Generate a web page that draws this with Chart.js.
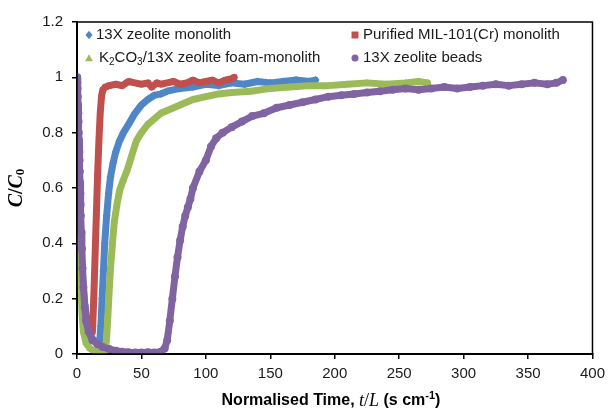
<!DOCTYPE html>
<html>
<head>
<meta charset="utf-8">
<script src="https://cdn.jsdelivr.net/npm/chart.js@4.4.1/dist/chart.umd.min.js"></script>
<style>
  html, body { margin: 0; padding: 0; background: #fff; }
  #wrap { width: 611px; height: 410px; position: relative; }
</style>
</head>
<body>
<div id="wrap"><canvas id="breakthrough"></canvas></div>
<script>
// 13X zeolite monolith
const monolithT = [0, 0.5, 1, 1.5, 2, 3, 4, 6, 8, 10, 13, 16, 17.5, 18.5, 19.5, 20.5, 21.5, 23, 24.5, 26, 28, 30, 33, 36, 40, 45, 50, 55, 60, 65, 70, 80, 90, 100, 110, 120, 130, 140, 150, 160, 170, 180, 185];
const monolithC = [1.0, 0.9, 0.78, 0.66, 0.55, 0.4, 0.3, 0.18, 0.11, 0.07, 0.05, 0.04, 0.04, 0.1, 0.2, 0.3, 0.4, 0.5, 0.58, 0.64, 0.69, 0.73, 0.77, 0.8, 0.83, 0.87, 0.9, 0.92, 0.935, 0.94, 0.95, 0.96, 0.965, 0.975, 0.97, 0.98, 0.975, 0.985, 0.98, 0.985, 0.99, 0.985, 0.99];

// Purified MIL-101(Cr) monolith
const milT = [0, 0.3, 0.6, 1, 1.5, 2, 3, 4, 6, 8, 10, 12, 13, 14, 15, 16, 17, 18, 19, 20, 22, 25, 30, 35, 40, 45, 50, 55, 58, 62, 65, 70, 75, 80, 85, 90, 95, 100, 105, 110, 115, 120, 122];
const milC = [1.0, 0.93, 0.85, 0.75, 0.62, 0.5, 0.36, 0.26, 0.16, 0.11, 0.09, 0.08, 0.2, 0.35, 0.5, 0.65, 0.77, 0.87, 0.93, 0.955, 0.965, 0.97, 0.975, 0.97, 0.985, 0.98, 0.975, 0.98, 0.965, 0.98, 0.975, 0.98, 0.985, 0.975, 0.98, 0.99, 0.98, 0.985, 0.99, 0.98, 0.99, 0.995, 1.0];

// K2CO3/13X zeolite foam-monolith
const foamT = [0, 0.5, 1, 1.5, 2, 3, 4, 5, 7, 10, 14, 18, 22, 23, 24, 25, 26, 27.5, 29, 31, 33, 36, 39, 42, 46, 50, 55, 60, 65, 70, 80, 90, 100, 110, 120, 135, 150, 165, 180, 195, 210, 225, 240, 255, 265, 272];
const foamC = [1.0, 0.85, 0.7, 0.55, 0.42, 0.25, 0.14, 0.08, 0.04, 0.02, 0.01, 0.005, 0.01, 0.06, 0.14, 0.23, 0.31, 0.4, 0.48, 0.54, 0.59, 0.63, 0.665, 0.71, 0.77, 0.8, 0.83, 0.85, 0.87, 0.88, 0.9, 0.92, 0.93, 0.94, 0.945, 0.95, 0.96, 0.965, 0.97, 0.97, 0.975, 0.98, 0.975, 0.98, 0.985, 0.98];

// 13X zeolite beads
const beadsT = [0, 0.2, 0.4, 0.6, 0.8, 1.0, 1.2, 1.4, 1.6, 1.8, 2.0, 2.2, 2.4, 2.6, 2.8, 3.0, 3.4, 3.8, 4.3, 5, 6, 7, 9, 12, 16, 20, 25, 30, 35, 40, 45, 50, 55, 60, 65, 68, 70, 72, 74, 76, 78, 80, 82, 84, 86, 88, 90, 95, 100, 104, 108, 113, 120, 128, 136, 145, 155, 165, 175, 185, 195, 205, 215, 225, 235, 245, 255, 265, 275, 285, 295, 305, 315, 325, 335, 345, 355, 365, 372, 377];
const beadsC = [1.0, 0.98, 0.96, 0.93, 0.9, 0.87, 0.84, 0.8, 0.77, 0.73, 0.7, 0.66, 0.62, 0.58, 0.54, 0.5, 0.44, 0.38, 0.31, 0.24, 0.17, 0.12, 0.08, 0.05, 0.035, 0.025, 0.018, 0.012, 0.008, 0.006, 0.005, 0.005, 0.006, 0.005, 0.008, 0.02, 0.05, 0.12, 0.2, 0.28, 0.35, 0.41, 0.46, 0.5, 0.53, 0.56, 0.6, 0.66, 0.7, 0.75, 0.78, 0.8, 0.82, 0.84, 0.86, 0.87, 0.89, 0.9, 0.91, 0.92, 0.93, 0.935, 0.94, 0.945, 0.95, 0.955, 0.96, 0.955, 0.96, 0.965, 0.96, 0.965, 0.97, 0.975, 0.97, 0.975, 0.98, 0.975, 0.98, 0.99];

const xTicks = [0, 50, 100, 150, 200, 250, 300, 350, 400];
const yTicks = [0, 0.2, 0.4, 0.6, 0.8, 1, 1.2];

const toPoints = (ts, cs) => ts.map((t, i) => ({ x: t, y: cs[i] }));

const series = [
  { label: '13X zeolite monolith', t: monolithT, c: monolithC, color: '#4f86c6', style: 'rectRot', order: 3 },
  { label: 'Purified MIL-101(Cr) monolith', t: milT, c: milC, color: '#c0504d', style: 'rect', order: 2 },
  { label: 'K2CO3/13X zeolite foam-monolith', t: foamT, c: foamC, color: '#9bbb59', style: 'triangle', order: 1 },
  { label: '13X zeolite beads', t: beadsT, c: beadsC, color: '#8064a2', style: 'circle', order: 0 },
];

const AXIS_FONT = '"Liberation Sans", Arial, sans-serif';
const SERIF = '"Liberation Serif", "Times New Roman", serif';

// draw a run of text pieces, each with its own font and baseline shift
function drawRich(ctx, parts, x, y) {
  let cx = x;
  parts.forEach(p => {
    ctx.font = p.font;
    ctx.fillText(p.text, cx, y + (p.dy || 0));
    cx += ctx.measureText(p.text).width;
  });
  return cx;
}
function richWidth(ctx, parts) {
  return parts.reduce((w, p) => { ctx.font = p.font; return w + ctx.measureText(p.text).width; }, 0);
}

function marker(ctx, style, x, y, r, color) {
  ctx.save();
  ctx.fillStyle = color;
  ctx.beginPath();
  if (style === 'circle') {
    ctx.arc(x, y, r, 0, Math.PI * 2);
  } else if (style === 'rect') {
    ctx.rect(x - r, y - r, 2 * r, 2 * r);
  } else if (style === 'rectRot') {
    ctx.moveTo(x, y - r * 1.2); ctx.lineTo(x + r, y); ctx.lineTo(x, y + r * 1.2); ctx.lineTo(x - r, y);
  } else if (style === 'triangle') {
    ctx.moveTo(x, y - r * 1.1); ctx.lineTo(x + r * 1.1, y + r * 0.9); ctx.lineTo(x - r * 1.1, y + r * 0.9);
  }
  ctx.closePath();
  ctx.fill();
  ctx.restore();
}

const decorations = {
  id: 'decorations',
  afterDatasetsDraw(chart) {
    const { ctx, chartArea: a } = chart;
    ctx.save();
    // plot frame
    ctx.strokeStyle = '#000';
    ctx.lineWidth = 1.5;
    ctx.strokeRect(a.left, a.top, a.right - a.left, a.bottom - a.top);

    // legend, two columns
    ctx.fillStyle = '#1a1a1a';
    ctx.textBaseline = 'middle';
    const f = '15px ' + AXIS_FONT;
    const fs = '10px ' + AXIS_FONT;
    const rows = [
      { s: series[0], mx: 89, tx: 96, y: 35, parts: [{ text: series[0].label, font: f }] },
      { s: series[1], mx: 355, tx: 363, y: 35, parts: [{ text: series[1].label, font: f }] },
      { s: series[2], mx: 89, tx: 99, y: 58, parts: [
        { text: 'K', font: f }, { text: '2', font: fs, dy: 4 }, { text: 'CO', font: f },
        { text: '3', font: fs, dy: 4 }, { text: '/13X zeolite foam-monolith', font: f }] },
      { s: series[3], mx: 355, tx: 363, y: 58, parts: [{ text: series[3].label, font: f }] },
    ];
    rows.forEach(r => {
      marker(ctx, r.s.style, r.mx, r.y, 3.5, r.s.color);
      drawRich(ctx, r.parts, r.tx, r.y);
    });

    // x axis title
    ctx.fillStyle = '#000';
    const xb = 'bold 16px ' + AXIS_FONT;
    const xParts = [
      { text: 'Normalised Time, ', font: xb },
      { text: 't', font: 'italic 18px ' + SERIF },
      { text: '/', font: '18px ' + SERIF },
      { text: 'L', font: 'italic 18px ' + SERIF },
      { text: ' (s cm', font: xb },
      { text: '-1', font: 'bold 11px ' + AXIS_FONT, dy: -5 },
      { text: ')', font: xb },
    ];
    const xw = richWidth(ctx, xParts);
    drawRich(ctx, xParts, 331 - xw / 2, 401);

    // y axis title, rotated
    ctx.translate(17, (a.top + a.bottom) / 2);
    ctx.rotate(-Math.PI / 2);
    const yParts = [
      { text: 'C', font: 'italic bold 20px ' + SERIF },
      { text: '/', font: 'bold 20px ' + SERIF },
      { text: 'C', font: 'italic bold 20px ' + SERIF },
      { text: '0', font: 'bold 13px ' + SERIF, dy: 4 },
    ];
    const yw = richWidth(ctx, yParts);
    drawRich(ctx, yParts, -yw / 2, 0);
    ctx.restore();
  }
};

new Chart(document.getElementById('breakthrough'), {
  type: 'scatter',
  data: {
    datasets: series.map(s => ({
      label: s.label,
      data: toPoints(s.t, s.c),
      showLine: true,
      borderColor: s.color,
      backgroundColor: s.color,
      borderWidth: 7,
      borderJoinStyle: 'round',
      borderCapStyle: 'round',
      pointStyle: s.style,
      pointRadius: 4,
      pointBorderWidth: 0,
      order: s.order,
    })),
  },
  options: {
    responsive: true,
    maintainAspectRatio: false,
    animation: false,
    layout: { padding: { top: 22, right: 18, left: 0, bottom: 0 } },
    plugins: { legend: { display: false }, tooltip: { enabled: false } },
    scales: {
      x: {
        type: 'linear',
        min: 0, max: 400,
        afterBuildTicks: (scale) => { scale.ticks = xTicks.map(v => ({ value: v })); },
        afterFit: (scale) => { scale.height = 56; },
        ticks: { color: '#1a1a1a', font: { family: AXIS_FONT, size: 15 }, padding: 6, maxRotation: 0 },
        grid: { drawOnChartArea: false, drawTicks: true, tickLength: 5, color: '#000', lineWidth: 1.5 },
        border: { display: true, color: '#000', width: 2 },
      },
      y: {
        type: 'linear',
        min: 0, max: 1.2,
        afterBuildTicks: (scale) => { scale.ticks = yTicks.map(v => ({ value: v })); },
        afterFit: (scale) => { scale.width = 77; },
        ticks: {
          color: '#1a1a1a', font: { family: AXIS_FONT, size: 15 }, padding: 9,
          callback: (v) => String(Number(v.toFixed(1))),
        },
        grid: { drawOnChartArea: false, drawTicks: true, tickLength: 5, color: '#000', lineWidth: 1.5 },
        border: { display: true, color: '#000', width: 2 },
      },
    },
  },
  plugins: [decorations],
});
</script>
</body>
</html>
